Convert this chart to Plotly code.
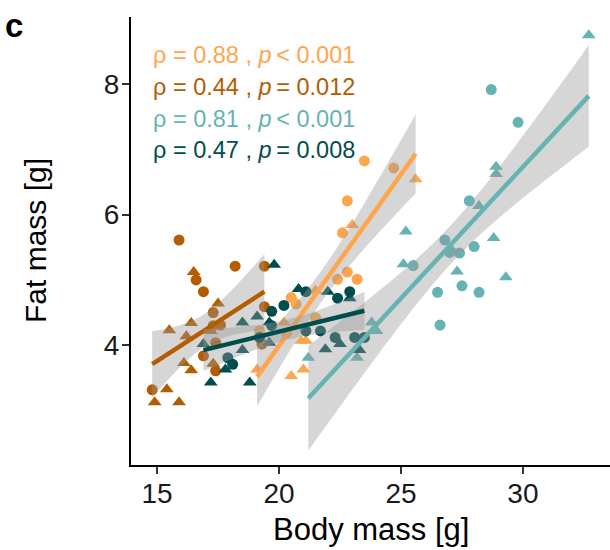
import numpy as np
import plotly.graph_objects as go

# ---- data ----
lo_circ_x = [23.5, 24.7, 22.8, 22.6, 22.8, 22.4, 23.2, 20.5, 20.7, 21.5, 20.3, 19.2]
lo_circ_y = [6.82, 6.71, 6.21, 5.72, 5.12, 5.01, 5.01, 4.73, 4.63, 4.42, 4.19, 4.22]
lo_tri_x = [25.6, 23.0, 21.5, 20.2, 20.9, 21.1, 19.1, 20.5, 21.0]
lo_tri_y = [6.54, 5.84, 4.84, 4.35, 4.07, 4.07, 3.63, 3.53, 3.63]

do_circ_x = [15.9, 16.6, 16.9, 18.2, 19.4, 17.3, 17.6, 16.9, 17.4, 14.8, 19.4, 17.4, 17.3, 19.3]
do_circ_y = [5.61, 5.00, 4.82, 5.21, 5.21, 4.50, 4.31, 3.84, 3.61, 3.32, 4.59, 4.04, 4.30, 4.02]
do_tri_x = [16.5, 17.5, 15.5, 16.4, 16.2, 16.1, 16.4, 17.3, 15.4, 14.9, 15.9, 17.2]
do_tri_y = [5.12, 4.64, 4.23, 4.34, 4.14, 3.73, 3.62, 3.72, 3.33, 3.13, 3.13, 4.22]

te_circ_x = [28.7, 29.8, 27.8, 26.8, 27.0, 27.4, 28.0, 25.5, 27.5, 26.5, 28.2, 26.6]
te_circ_y = [7.91, 7.41, 6.21, 5.61, 5.42, 5.41, 5.51, 5.22, 4.91, 4.81, 4.81, 4.31]
te_tri_x = [32.7, 28.9, 28.9, 28.2, 25.2, 28.8, 27.1, 25.1, 27.3, 29.3, 24.0, 23.8, 21.2, 23.2]
te_tri_y = [8.74, 6.73, 6.62, 6.13, 5.74, 5.64, 5.45, 5.24, 5.13, 5.04, 4.22, 4.35, 3.81, 3.81]

dt_circ_x = [19.7, 20.2, 17.9, 18.1, 19.7, 21.1, 22.4, 22.9, 21.1, 21.7, 22.3, 23.1, 23.5, 19.2]
dt_circ_y = [4.52, 4.61, 3.81, 3.71, 4.30, 4.82, 4.72, 4.82, 4.22, 4.22, 4.12, 4.12, 4.12, 4.12]
dt_tri_x = [19.8, 18.5, 19.1, 19.6, 16.9, 18.5, 17.8, 17.2, 18.8, 20.8, 22.0, 22.9, 22.5, 21.9, 23.3, 19.6]
dt_tri_y = [5.23, 4.35, 4.44, 4.35, 4.02, 3.93, 3.63, 3.43, 3.43, 4.86, 4.82, 4.72, 4.02, 3.94, 3.93, 4.04]

stat_labels = ["ρ = 0.88 , <i>p</i>\u2009< 0.001",
               "ρ = 0.44 , <i>p</i>\u2009= 0.012",
               "ρ = 0.81 , <i>p</i>\u2009< 0.001",
               "ρ = 0.47 , <i>p</i>\u2009= 0.008"]

x_ticks = [15, 20, 25, 30]
y_ticks = [4, 6, 8]

colors = ["#FFA64D", "#B35C00", "#66B3B3", "#004D4D"]
groups = [
    (lo_circ_x, lo_circ_y, lo_tri_x, lo_tri_y),
    (do_circ_x, do_circ_y, do_tri_x, do_tri_y),
    (te_circ_x, te_circ_y, te_tri_x, te_tri_y),
    (dt_circ_x, dt_circ_y, dt_tri_x, dt_tri_y),
]

FONT = "Liberation Sans, Arial, Helvetica, sans-serif"

def tq(df):
    z = 1.959964
    return z + (z**3 + z) / (4 * df) + (5 * z**5 + 16 * z**3 + 3 * z) / (96 * df**2)

fig = go.Figure()

# points
for (cx, cy, tx, ty), col in zip(groups, colors):
    fig.add_trace(go.Scatter(x=cx, y=cy, mode="markers",
                             marker=dict(symbol="circle", size=11, color=col, line=dict(width=0)),
                             showlegend=False, hoverinfo="skip"))
    fig.add_trace(go.Scatter(x=tx, y=ty, mode="markers",
                             marker=dict(symbol="triangle-up", size=12, color=col, line=dict(width=0)),
                             showlegend=False, hoverinfo="skip"))

# smooths (lm + 95% CI)
for (cx, cy, tx, ty), col in zip(groups, colors):
    x = np.array(cx + tx, dtype=float)
    y = np.array(cy + ty, dtype=float)
    n = len(x)
    b, a = np.polyfit(x, y, 1)
    resid = y - (a + b * x)
    s = np.sqrt(np.sum(resid**2) / (n - 2))
    xm = x.mean()
    sxx = np.sum((x - xm) ** 2)
    xs = np.linspace(x.min(), x.max(), 80)
    yf = a + b * xs
    se = s * np.sqrt(1.0 / n + (xs - xm) ** 2 / sxx)
    t = tq(n - 2)
    lo = yf - t * se
    hi = yf + t * se
    fig.add_trace(go.Scatter(x=np.concatenate([xs, xs[::-1]]), y=np.concatenate([hi, lo[::-1]]),
                             fill="toself", fillcolor="rgba(153,153,153,0.4)", mode="none",
                             line=dict(width=0), showlegend=False, hoverinfo="skip"))
    fig.add_trace(go.Scatter(x=xs, y=yf, mode="lines", line=dict(color=col, width=4.5),
                             showlegend=False, hoverinfo="skip"))

annotations = []
ys_px = [55, 87, 119, 150]
for lab, col, ypx in zip(stat_labels, colors, ys_px):
    annotations.append(dict(text=lab, xref="paper", yref="paper", x=0, y=1,
                            xanchor="left", yanchor="middle", xshift=20, yshift=-(ypx - 17),
                            showarrow=False, font=dict(family=FONT, size=23.5, color=col)))

annotations.append(dict(text="<b>c</b>", xref="paper", yref="paper", x=0, y=1,
                        xanchor="center", yanchor="middle", xshift=-(131 - 14), yshift=-(25 - 17),
                        showarrow=False, font=dict(family=FONT, size=33, color="black")))
annotations.append(dict(text="Body mass [g]", xref="paper", yref="paper", x=0.5, y=0,
                        xanchor="center", yanchor="middle", yshift=-(529 - 465),
                        showarrow=False, font=dict(family=FONT, size=31, color="black")))
annotations.append(dict(text="Fat mass [g]", xref="paper", yref="paper", x=0, y=0.5,
                        xanchor="center", yanchor="middle", xshift=-(131 - 35), textangle=-90,
                        showarrow=False, font=dict(family=FONT, size=30, color="black")))

fig.update_layout(
    width=610, height=550,
    margin=dict(l=131, r=0, t=17, b=85),
    plot_bgcolor="white", paper_bgcolor="white",
    font=dict(family=FONT, color="black"),
    annotations=annotations,
    xaxis=dict(range=[13.93, 33.57], tickvals=x_ticks, ticks="outside", ticklen=7, tickwidth=1.5,
               tickcolor="#333333", showline=True, linecolor="black", linewidth=2,
               ticklabelstandoff=-5,
               showgrid=False, zeroline=False, tickfont=dict(family=FONT, size=28, color="#1a1a1a")),
    yaxis=dict(range=[2.17, 9.02], tickvals=y_ticks, ticks="outside", ticklen=7, tickwidth=1.5,
               tickcolor="#333333", showline=True, linecolor="black", linewidth=2,
               ticklabelstandoff=-3,
               showgrid=False, zeroline=False, tickfont=dict(family=FONT, size=28, color="#1a1a1a")),
)

fig.write_html("out.html")
